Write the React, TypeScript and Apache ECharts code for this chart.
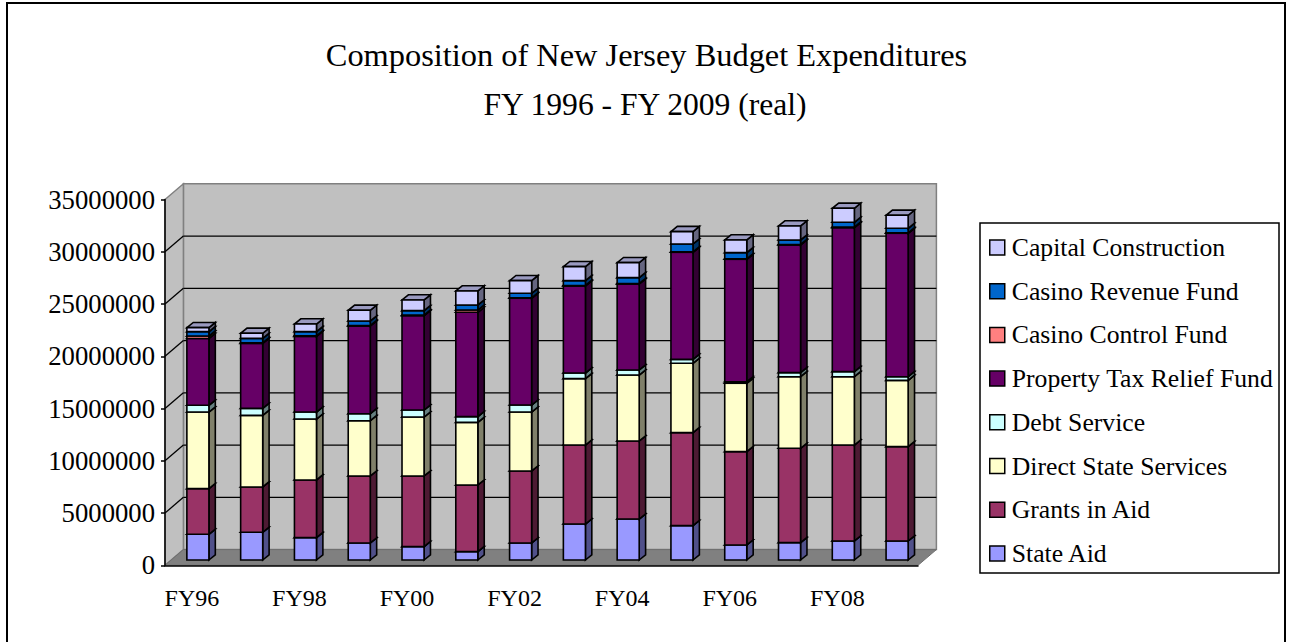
import React, { useEffect, useRef } from "react";
import * as echarts from "echarts";

const FONT = "Liberation Serif";
const categories = ["FY96","FY97","FY98","FY99","FY00","FY01","FY02","FY03","FY04","FY05","FY06","FY07","FY08","FY09"];
const yTicks = [0, 5000000, 10000000, 15000000, 20000000, 25000000, 30000000, 35000000];

const stateAid = [2460000,2650000,2140000,1630000,1280000,800000,1630000,3440000,3920000,3290000,1440000,1660000,1820000,1820000];
const grantsInAid = [4370000,4340000,5520000,6410000,6760000,6380000,6890000,7560000,7470000,8900000,8930000,9030000,9180000,9030000];
const directState = [7330000,6850000,5830000,5290000,5640000,5990000,5640000,6350000,6310000,6630000,6540000,6850000,6540000,6340000];
const debtService = [640000,670000,670000,670000,670000,550000,670000,540000,480000,380000,150000,390000,480000,350000];
const propertyTax = [6400000,6220000,7240000,8390000,9030000,9980000,10210000,8330000,8230000,10240000,11710000,12210000,13780000,13720000];
const casinoControl = [230000,50000,50000,50000,50000,220000,50000,50000,50000,50000,50000,50000,50000,50000];
const casinoRevenue = [420000,430000,400000,430000,430000,480000,430000,460000,560000,750000,590000,430000,460000,430000];
const capital = [380000,480000,730000,1020000,1020000,1340000,1210000,1340000,1430000,1180000,1210000,1340000,1340000,1240000];

const stack = [
  { name: "State Aid", values: stateAid, color: "#9999FF", side: "#50508A", top: "#7676C0" },
  { name: "Grants in Aid", values: grantsInAid, color: "#993366", side: "#4D1A33", top: "#73264D" },
  { name: "Direct State Services", values: directState, color: "#FFFFCC", side: "#80806A", top: "#C0C09A" },
  { name: "Debt Service", values: debtService, color: "#CCFFFF", side: "#668080", top: "#9AC0C0" },
  { name: "Property Tax Relief Fund", values: propertyTax, color: "#660066", side: "#330033", top: "#4D004D" },
  { name: "Casino Control Fund", values: casinoControl, color: "#FF8080", side: "#804040", top: "#C06060" },
  { name: "Casino Revenue Fund", values: casinoRevenue, color: "#0066CC", side: "#003366", top: "#004D9A" },
  { name: "Capital Construction", values: capital, color: "#CCCCFF", side: "#666680", top: "#9A9AC0" },
];

const WALL_DX = 18.4;
const WALL_DY = 15.7;
const BAR_DX = 6;
const BAR_DY = 5.3;
const SIDE_DX = 6.4;
const SIDE_DY = 5.2;
const BAR_RATIO = 0.41;
const BAR_LINE = 1.6;

function poly(points: number[][], fill: string, stroke: string, lineWidth: number) {
  return { type: "polygon", shape: { points }, style: { fill, stroke, lineWidth } };
}

function wallItem(params: any) {
  const c = params.coordSys;
  const l = c.x, r = c.x + c.width, t = c.y, b = c.y + c.height;
  const grey = "#C0C0C0";
  const edge = "#808080";
  return {
    type: "group",
    children: [
      poly([[l + WALL_DX, t - WALL_DY], [r + WALL_DX, t - WALL_DY], [r + WALL_DX, b - WALL_DY], [l + WALL_DX, b - WALL_DY]], grey, edge, 1.5),
      poly([[l, t], [l + WALL_DX, t - WALL_DY], [l + WALL_DX, b - WALL_DY], [l, b]], grey, edge, 1.5),
      poly([[l, b], [l + WALL_DX, b - WALL_DY], [r + WALL_DX, b - WALL_DY], [r, b]], "#808080", "#6E6E6E", 1),
    ],
  };
}

function gridItem(params: any, api: any) {
  const c = params.coordSys;
  const y = api.coord([0, api.value(1)])[1];
  const l = c.x, r = c.x + c.width;
  const line = (x1: number, y1: number, x2: number, y2: number) => ({
    type: "line",
    shape: { x1, y1, x2, y2 },
    style: { stroke: "#000000", lineWidth: 1.3 },
  });
  return {
    type: "group",
    children: [line(l, y, l + WALL_DX, y - WALL_DY), line(l + WALL_DX, y - WALL_DY, r + WALL_DX, y - WALL_DY)],
  };
}

function barItem(params: any, api: any, s: (typeof stack)[number]) {
  const idx = api.value(0);
  const lo = api.coord([idx, api.value(1)]);
  const hi = api.coord([idx, api.value(2)]);
  const w = api.size([1, 0])[0] * BAR_RATIO;
  const x0 = lo[0] - w / 2 + BAR_DX;
  const x1 = x0 + w;
  const y0 = lo[1] - BAR_DY;
  const y1 = hi[1] - BAR_DY;
  return {
    type: "group",
    children: [
      poly([[x1, y0], [x1 + SIDE_DX, y0 - SIDE_DY], [x1 + SIDE_DX, y1 - SIDE_DY], [x1, y1]], s.side, "#000000", BAR_LINE),
      poly([[x0, y1], [x1, y1], [x1 + SIDE_DX, y1 - SIDE_DY], [x0 + SIDE_DX, y1 - SIDE_DY]], s.top, "#000000", BAR_LINE),
      poly([[x0, y0], [x1, y0], [x1, y1], [x0, y1]], s.color, "#000000", BAR_LINE),
    ],
  };
}

export default function App() {
  const ref = useRef<HTMLDivElement>(null);
  useEffect(() => {
    const chart = echarts.init(ref.current!, null, { renderer: "svg" });
    const running = new Array(categories.length).fill(0);
    const barSeries = stack.map((s) => {
      const data = s.values.map((v, i) => {
        const row = [i, running[i], running[i] + v];
        running[i] += v;
        return row;
      });
      return {
        type: "custom",
        name: s.name,
        z: 3,
        clip: false,
        coordinateSystem: "cartesian2d",
        itemStyle: { color: s.color, borderColor: "#000", borderWidth: 1.5 },
        encode: { x: 0, y: [1, 2] },
        data,
        renderItem: (p: any, a: any) => barItem(p, a, s),
      };
    });
    const legendData = [...stack].reverse().map((s) => ({
      name: s.name,
      itemStyle: { color: s.color, borderColor: "#000", borderWidth: 1.5 },
    }));
    chart.setOption({
      animation: false,
      backgroundColor: "#FFFFFF",
      title: [
        { text: "Composition of New Jersey Budget Expenditures", left: 641.5, top: 34, textAlign: "center",
          textStyle: { fontFamily: FONT, fontWeight: "normal", fontSize: 32.4, color: "#000" } },
        { text: "FY 1996 - FY 2009 (real)", left: 640, top: 83, textAlign: "center",
          textStyle: { fontFamily: FONT, fontWeight: "normal", fontSize: 31.6, color: "#000" } },
      ],
      grid: { left: 165, top: 199.5, width: 753, height: 365.8, containLabel: false },
      xAxis: {
        type: "category",
        data: categories,
        z: 4,
        axisLine: { lineStyle: { color: "#000", width: 1.5 } },
        axisTick: { length: 5, interval: 0, alignWithLabel: false, lineStyle: { color: "#000", width: 1.5 } },
        axisLabel: { interval: 1, margin: 21, fontFamily: FONT, fontSize: 24, color: "#000" },
        splitLine: { show: false },
      },
      yAxis: {
        type: "value",
        min: 0,
        max: 35000000,
        interval: 5000000,
        z: 4,
        axisLine: { show: true, lineStyle: { color: "#000", width: 1.5 } },
        axisTick: { show: true, length: 4, lineStyle: { color: "#000", width: 1.5 } },
        axisLabel: { margin: 10, fontFamily: FONT, fontSize: 26.7, color: "#000", formatter: (v: number) => String(v) },
        splitLine: { show: false },
      },
      legend: {
        show: true,
        orient: "vertical",
        left: 989,
        top: 233,
        padding: 0,
        itemWidth: 15,
        itemHeight: 15,
        itemGap: 14.7,
        align: "left",
        icon: "rect",
        selectedMode: false,
        textStyle: { fontFamily: FONT, fontSize: 25.7, color: "#000", padding: [0, 0, 0, 2], lineHeight: 29 },
        data: legendData,
      },
      graphic: [
        { type: "polyline", z: 1, shape: { points: [[7, 642], [7, 3], [1285, 3], [1285, 642]] },
          style: { fill: "none", stroke: "#000", lineWidth: 2 } },
        { type: "rect", z: 1, shape: { x: 980, y: 223, width: 299, height: 350 },
          style: { fill: "#FFF", stroke: "#000", lineWidth: 1.5 } },
      ],
      series: [
        { type: "custom", coordinateSystem: "cartesian2d", z: 1, clip: false, silent: true,
          encode: { x: 0, y: 1 }, data: [[0, 0]], renderItem: wallItem },
        { type: "custom", coordinateSystem: "cartesian2d", z: 2, clip: false, silent: true,
          encode: { x: 0, y: 1 }, data: yTicks.slice(1, 7).map((v) => [0, v]), renderItem: gridItem },
        ...barSeries,
      ],
    });
    return () => chart.dispose();
  }, []);
  return <div ref={ref} style={{ position: "absolute", left: 0, top: 0, width: 1291, height: 642 }} />;
}
